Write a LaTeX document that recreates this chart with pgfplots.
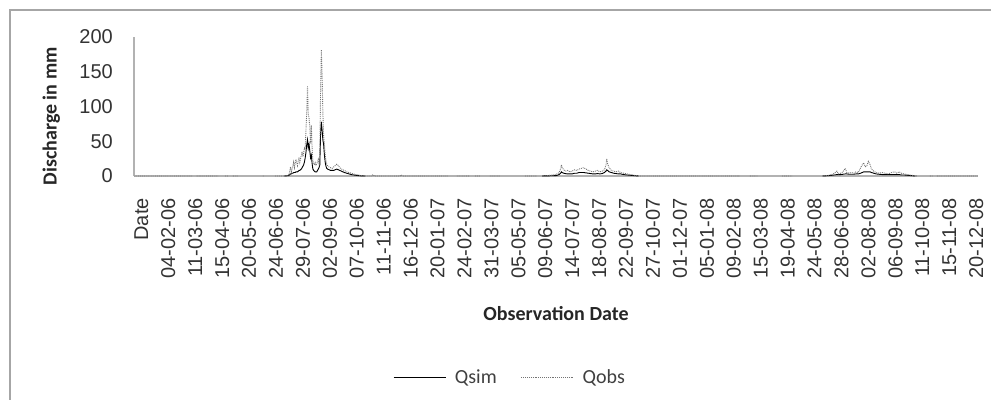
\documentclass[border=0pt]{standalone}
\usepackage{fontspec}
\setmainfont{Carlito}
\newfontfamily\arialfont{Liberation Sans}
\newcommand\tickfont{\arialfont\fontsize{20bp}{24bp}\selectfont}
\newcommand\T[1]{{\tickfont #1}}
\usepackage{pgfplots}
\pgfplotsset{compat=1.18}
\begin{document}
\begin{tikzpicture}
\useasboundingbox (0,0) rectangle (991bp,400bp);
\draw[black!35, line width=1.5bp] (10bp,0) -- (10bp,390bp) -- (991bp,390bp);
\begin{axis}[
  scale only axis,
  width=844bp, height=139bp,
  at={(134bp,224bp)}, anchor=south west,
  xmin=-0.5, xmax=1096.5, ymin=0, ymax=200,
  enlargelimits=false,
  axis x line=bottom, axis y line=left,
  axis line style={-, black!30, line width=1.3bp},
  major tick length=0pt,
  ytick={0,50,100,150,200},
  yticklabels={\T{0},\T{50},\T{100},\T{150},\T{200}},
  xtick={0,35,...,1085},
  xticklabels={\T{Date},\T{04-02-06},\T{11-03-06},\T{15-04-06},\T{20-05-06},\T{24-06-06},\T{29-07-06},\T{02-09-06},\T{07-10-06},\T{11-11-06},\T{16-12-06},\T{20-01-07},\T{24-02-07},\T{31-03-07},\T{05-05-07},\T{09-06-07},\T{14-07-07},\T{18-08-07},\T{22-09-07},\T{27-10-07},\T{01-12-07},\T{05-01-08},\T{09-02-08},\T{15-03-08},\T{19-04-08},\T{24-05-08},\T{28-06-08},\T{02-08-08},\T{06-09-08},\T{11-10-08},\T{15-11-08},\T{20-12-08}},
  xticklabel style={text=black!80, yshift=-22bp, xshift=7bp, rotate=90, anchor=east, inner sep=0pt},
  yticklabel style={text=black!80, xshift=-21bp, anchor=east, inner sep=0pt},
  ylabel={\bfseries Discharge in mm},
  ylabel style={at={(axis description cs:-0.098,0.43)}, anchor=center, font=\fontsize{20bp}{24bp}\selectfont, text=black!85},
  xlabel={\bfseries Observation Date},
  xlabel style={at={(axis description cs:0.5,-0.986)}, anchor=center, font=\fontsize{20bp}{24bp}\selectfont, text=black!85},
  legend columns=2,
  legend style={at={(axis description cs:0.4455,-1.446)}, anchor=center, draw=none, fill=none,
    font=\fontsize{20bp}{24bp}\selectfont, text=black!75,
    /tikz/every even column/.append style={column sep=22bp}},
  legend image code/.code={\draw[#1] (0bp,0bp) -- (52bp,0bp);},
  unbounded coords=jump,
  clip=false,
]
\addplot[black, line width=0.9bp] table[x=d, y=q] {
d q
195 0
198 0.3
200 0.5
201 1
202 2
203 3
204 3
205 4
206 4
207 5
208 5
209 5
210 6
211 6
212 6
213 7
214 8
215 8
216 9
217 10
218 12
219 14
220 16
221 20
222 26
223 34
224 45
225 52
226 40
227 46
228 36
229 26
230 30
231 18
232 10
233 8
234 7
235 6
236 6
237 6
238 8
239 10
240 12
241 16
242 60
243 78
244 66
245 52
246 45
247 30
248 20
249 14
250 11
251 10
253 9
255 8
257 8
259 8
261 9
263 10
265 9
267 8
269 7
271 6
273 5
276 4
279 3
282 2
285 1.5
288 1
291 0.5
295 0.2
300 0
301 nan
530 0
540 0.3
548 0.5
552 2
554 4
555 6
556 5
558 4
560 3.5
563 3
566 3
569 3
572 4
575 4
578 5
581 5
584 5
587 4.5
590 4
593 3.5
596 3
599 3
602 3.5
605 3
608 3.5
611 5
613 7
614 9
615 8
617 6
620 5
623 4
626 3.5
629 3
632 3
636 2
640 1.5
645 1
650 0.5
655 0
656 nan
895 0
902 0.5
906 1
910 1.5
913 2
915 2
918 2
921 2.5
924 3
926 3
929 2.5
932 2.5
935 2.5
938 3
941 3
944 4
946 5
948 6
950 6
952 6
954 6
956 6
958 5
961 4
964 3
968 2.5
972 2
976 2
980 2
984 2
988 2
991 2
994 2
997 1.5
1000 1.5
1005 1
1010 0.5
1015 0
};
\addlegendentry{\hspace{7bp}Qsim}
\addplot[black!55, densely dotted, line width=0.9bp] table[x=d, y=q] {
d q
0 0
75 0
76 nan
81 0
109 0
110 nan
118 0
122 0
123 nan
128 0
135 0
136 nan
167 0
168 0
169 nan
183 0
195 0
198 0.5
200 1
201 3
202 8
203 13
204 6
205 10
206 15
207 20
208 12
209 18
210 24
211 19
212 15
213 22
214 27
215 20
216 25
217 30
218 35
219 28
220 33
221 40
222 38
223 66
224 92
225 129
226 90
227 83
228 71
229 47
230 73
231 40
232 22
233 18
234 16
235 19
236 15
237 18
238 20
239 24
240 18
241 30
242 124
243 181
244 145
245 90
246 57
247 47
248 30
249 22
250 17
251 15
253 13
255 12
257 11
259 13
261 15
263 17
265 15
267 12
269 10
271 9
273 8
276 6
279 5
282 4
285 3
288 2
291 1.5
295 0.5
300 0
308 0
310 2
312 0
345 0
347 1.5
349 0
407 0
408 nan
419 0
436 0
437 nan
443 0
449 0
450 nan
462 0
475 0
476 nan
508 0
523 0
524 nan
534 0
540 1
548 2
552 5
554 10
555 16
556 12
558 9
560 7
563 8
566 6
569 7
572 9
575 8
578 10
581 11
584 12
587 10
590 8
593 7
596 6
599 7
602 8
605 6
608 7
611 9
613 16
614 25
615 18
617 12
620 8
623 7
626 6
629 7
632 5
636 4
640 3
645 2
650 1
655 0
787 0
788 nan
800 0
810 0
811 nan
842 0
855 0
856 nan
894 0
902 1
906 2
910 4
913 7
915 3
918 4
921 6
924 11
926 5
929 4
932 5
935 4
938 6
941 5
944 12
946 16
948 19
950 13
952 15
954 21
956 17
958 10
961 7
964 5
968 4
972 5
976 4
980 3
984 5
988 6
991 4
994 6
997 4
1000 3
1005 2
1010 1
1017 0
1018 nan
1034 0
1038 0
1039 nan
1043 0
1096 0
};
\addlegendentry{\hspace{7bp}Qobs}
\end{axis}
\end{tikzpicture}
\end{document}
